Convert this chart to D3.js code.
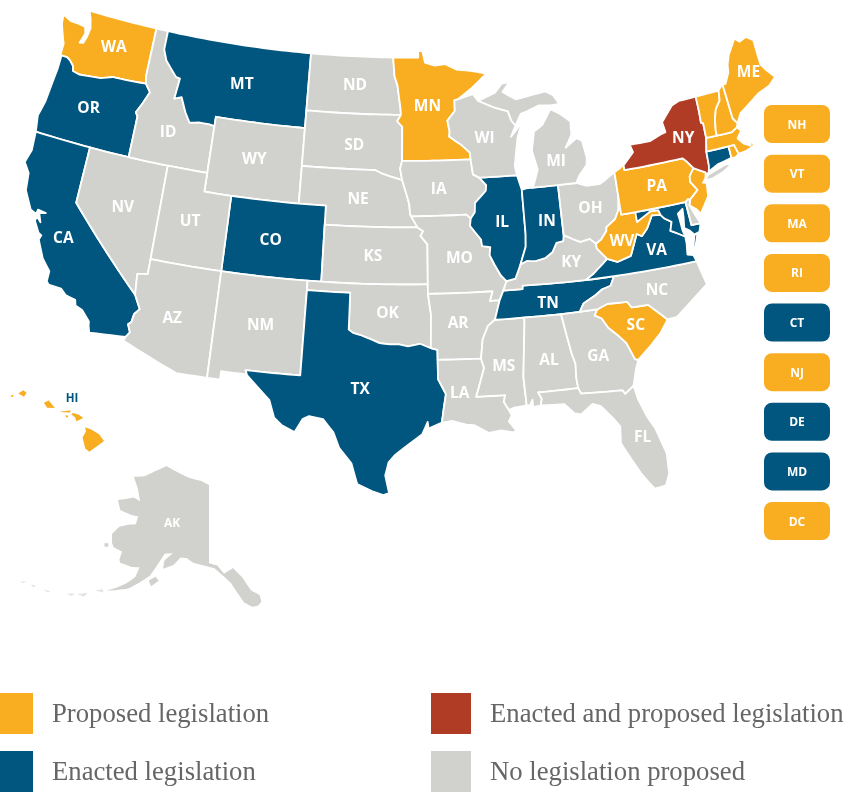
<!DOCTYPE html>
<html>
<head>
<meta charset="utf-8">
<script src="https://cdn.jsdelivr.net/npm/d3@7"></script>
<style>
    html, body { margin: 0; padding: 0; background: #fff; }
    svg { display: block; filter: blur(0.4px); }
    .state { stroke: #fff; stroke-width: 1.8; stroke-linejoin: round; }
    .state-label { font-family: "Open Sans", sans-serif; font-weight: 700; font-size: 15.5px; fill: #fff; text-anchor: middle; dominant-baseline: central; }
    .chip-label { font-family: "Open Sans", sans-serif; font-weight: 700; font-size: 12px; fill: #fff; text-anchor: middle; dominant-baseline: central; }
    .legend-label { font-family: "Liberation Serif", serif; font-size: 26.7px; fill: #666; }
</style>
</head>
<body>
<div id="chart"></div>
<script>
// Status of each state
const proposed = ["WA", "MN", "ME", "NH", "VT", "MA", "RI", "NJ", "PA", "WV", "SC", "HI"];
const enacted = ["OR", "CA", "MT", "CO", "TX", "IL", "IN", "TN", "VA", "CT", "MD"];
const both = ["NY"];

// Buttons for the small states on the right
const chipNames = ["NH", "VT", "MA", "RI", "CT", "NJ", "DE", "MD", "DC"];
const chipStatus = ["proposed", "proposed", "proposed", "proposed", "enacted", "proposed", "enacted", "enacted", "proposed"];

const legendNames = ["Proposed legislation", "Enacted legislation", "Enacted and proposed legislation", "No legislation proposed"];
const legendStatus = ["proposed", "enacted", "both", "none"];

// Borders shared by two states, in lon/lat
const columbia = [[-124.05,46.27],[-123.5,46.27],[-123.2,46.15],[-122.85,45.9],[-122.75,45.65],[-122.2,45.57],[-121.2,45.65],[-120.5,45.7],[-119.6,45.92],[-119,45.93],[-116.92,46]];
const snake = [[-116.92,46],[-116.47,45.6],[-116.85,44.95],[-117.22,44.4],[-117.03,44.2],[-117.03,42]];
const idMt = [[-116.05,49],[-116.05,48],[-115.7,47.45],[-114.7,46.7],[-114.35,46.65],[-114.5,45.55],[-113.95,45.7],[-113.45,44.95],[-113,44.45],[-112.3,44.55],[-111.5,44.55],[-111.05,44.5]];
const coloradoR = [[-114.63,35],[-114.14,34.3],[-114.45,34],[-114.53,33.55],[-114.72,33.4],[-114.5,33],[-114.72,32.72]];
const redRiver = [[-94.48,33.64],[-95.2,33.88],[-96,33.75],[-96.6,33.85],[-97.2,33.85],[-97.9,33.9],[-98.5,34.1],[-99.2,34.3],[-99.7,34.4],[-100,34.56]];
const sabine = [[-94.04,32],[-93.55,31.2],[-93.7,30.5],[-93.85,29.7]];
const neIa = [[-96.44,42.49],[-96.1,41.7],[-95.9,41.2],[-95.85,40.7],[-95.77,40.58]];
const ksMo = [[-95.31,40],[-94.9,39.8],[-95.1,39.55],[-94.61,39.1]];
const ndMn = [[-97.23,49],[-97.1,48],[-96.85,47.5],[-96.6,46.3],[-96.56,45.94]];
const sdMn = [[-96.56,45.94],[-96.85,45.6],[-96.45,45.3],[-96.45,43.5]];
const sdIa = [[-96.45,43.5],[-96.6,43.1],[-96.44,42.49]];
const sdNe = [[-96.44,42.49],[-97.9,42.8],[-98.5,43],[-104.05,43]];
const mnWi = [[-92.01,46.71],[-92.29,46.66],[-92.29,46.1],[-92.9,45.6],[-92.75,45],[-92.8,44.75],[-91.9,44.3],[-91.25,43.85],[-91.22,43.5]];
const iaWi = [[-91.22,43.5],[-91.1,42.7],[-90.64,42.51]];
const iaIl = [[-90.64,42.51],[-90.15,42.1],[-90.2,41.8],[-91.05,41.2],[-91.1,40.7],[-91.42,40.38]];
const moIl = [[-91.42,40.38],[-91.5,40],[-90.75,39.25],[-90.7,38.9],[-90.12,38.83],[-90.2,38.4],[-89.9,37.9],[-89.5,37.3],[-89.13,36.98]];
const lowerMiss = [[-90.1,35],[-90.6,34.7],[-91,34],[-91.17,33]];
const laMs = [[-91.17,33],[-91,32.5],[-91.6,31],[-89.73,31],[-89.85,30.65],[-89.55,30.2]];
const ohioOh = [[-82.6,38.42],[-83,38.72],[-83.7,38.63],[-84.25,38.85],[-84.82,39.1]];
const ohioIn = [[-84.82,39.1],[-84.9,38.78],[-85.4,38.73],[-85.75,38.27],[-86.3,38],[-87,37.9],[-87.6,37.95],[-88.07,37.8]];
const ohioIl = [[-88.07,37.8],[-88.5,37.08],[-89.13,36.98]];
const wabash = [[-87.53,39.35],[-87.6,38.7],[-88.07,37.8]];
const tnKy = [[-89.4,36.5],[-88.07,36.5],[-88.05,36.68],[-83.68,36.6]];
const tnNc = [[-81.68,36.59],[-82,36.12],[-82.6,36],[-83.1,35.75],[-84,35.4],[-84.32,34.99]];
const kyVa = [[-83.68,36.6],[-83.1,36.85],[-81.97,37.54]];
const kyWv = [[-81.97,37.54],[-82.6,38.17],[-82.6,38.42]];
const vaWv = [[-81.97,37.54],[-81.3,37.3],[-80.3,37.5],[-79.65,38.58],[-79.3,38.42],[-78.85,38.76],[-78.35,39.4],[-77.72,39.32]];
const ohWv = [[-82.6,38.42],[-82.2,38.6],[-81.75,39],[-81.7,39.2],[-81,39.55],[-80.66,40],[-80.52,40.64]];
const mdWv = [[-77.72,39.32],[-77.83,39.6],[-78.4,39.62],[-79.48,39.2],[-79.48,39.72]];
const potomac = [[-76.3,37.95],[-77,38.3],[-77.25,38.4],[-77.05,38.85],[-77.5,39.1],[-77.72,39.32]];
const gaSc = [[-83.1,35],[-83.35,34.7],[-82.9,34.48],[-82.55,33.95],[-81.95,33.45],[-81.5,33],[-81.1,32.1],[-80.9,32.03]];
const ncSc = [[-83.1,35],[-82.4,35.2],[-81.05,35.15],[-80.8,34.82],[-79.67,34.8],[-78.55,33.86]];
const alGa = [[-85.6,34.98],[-85.18,32.87],[-85,32.3],[-85.05,31.55],[-85,31]];
const gaFl = [[-85,31],[-84.86,30.7],[-82.2,30.57],[-82.05,30.36],[-81.45,30.72]];
const msAl = [[-88.2,35],[-88.1,34.9],[-88.47,31.9],[-88.4,30.37]];
const alFl = [[-85,31],[-87.6,31],[-87.4,30.65],[-87.5,30.3]];
const paNj = [[-74.7,41.36],[-75.1,41],[-75.15,40.7],[-74.75,40.2],[-75.4,39.8]];
const paNy = [[-75.35,42],[-75.05,41.75],[-74.7,41.36]];
const vtNh = [[-71.5,45.01],[-71.6,44.5],[-72.05,44.1],[-72.3,43.6],[-72.45,43],[-72.46,42.73]];
const nyVt = [[-73.34,45.01],[-73.35,44.2],[-73.4,43.6],[-73.25,43.55],[-73.28,42.75]];

const rev = a => a.slice().reverse();

// State outlines for the lower 48
const lower48 = {
    WA: [[[-117.03,49],[-122.76,49],[-122.5,48.6],[-122.3,48.1],[-122.4,47.6],[-122.55,47.25],[-122.85,47.2],[-122.6,47.75],[-122.75,48.1],[-123.2,48.15],[-124,48.17],[-124.72,48.38],[-124.65,47.9],[-124.3,47.3],[-124.05,46.9],...columbia,[-117.04,46.42]]],
    OR: [[...columbia, ...snake.slice(1),[-124.2,42],[-124.4,42.85],[-124.15,43.7],[-124.05,44.7],[-123.95,45.5],[-123.95,46.2]]],
    CA: [[[-124.2,42],[-120,42],[-120,39],...coloradoR,[-117.12,32.53],[-117.25,32.85],[-117.3,33.1],[-117.9,33.6],[-118.4,33.75],[-118.5,34.03],[-119.2,34.15],[-119.6,34.42],[-120.47,34.45],[-120.65,34.6],[-120.65,35.15],[-121.3,35.7],[-121.9,36.6],[-121.8,36.85],[-122.05,36.95],[-122.5,37.5],[-122.45,37.75],[-122.1,37.5],[-122.35,37.95],[-121.9,38.05],[-122.5,38.1],[-122.55,37.85],[-123,38],[-123.7,38.9],[-123.85,39.8],[-124.35,40.3],[-124.1,41]]],
    NV: [[[-120,42],[-114.04,42],[-114.04,36.2],[-114.75,36.1],[-114.63,35],[-120,39]]],
    ID: [[[-117.03,49],...idMt,[-111.05,42],...rev(snake),[-117.04,46.42]]],
    MT: [[[-116.05,49],[-104.05,49],[-104.05,45],[-111.05,45],...rev(idMt)]],
    WY: [[[-111.05,45],[-104.05,45],[-104.05,41],[-111.05,41]]],
    ND: [[[-104.05,49],...ndMn,[-104.05,45.94]]],
    SD: [[[-104.05,45.94],...sdMn,...sdIa.slice(1),...sdNe.slice(1)]],
    NE: [[...rev(sdNe),...neIa.slice(1),[-95.31,40],[-102.05,40],[-102.05,41],[-104.05,41]]],
    CO: [[[-109.05,41],[-102.05,41],[-102.05,37],[-109.05,37]]],
    UT: [[[-114.04,42],[-111.05,42],[-111.05,41],[-109.05,41],[-109.05,37],[-114.04,37]]],
    AZ: [[[-114.04,37],[-109.05,37],[-109.05,31.33],[-111.07,31.33],[-114.81,32.5],...rev(coloradoR),[-114.75,36.1],[-114.04,36.2]]],
    NM: [[[-109.05,37],[-103,37],[-103.04,32],[-106.62,32],[-106.53,31.78],[-108.2,31.78],[-108.2,31.33],[-109.05,31.33]]],
    KS: [[[-102.05,40],...ksMo,[-94.62,37],[-102.04,37]]],
    OK: [[[-103,37],[-94.62,37],[-94.62,36.5],[-94.43,35.4],...redRiver,[-100,36.5],[-103,36.5]]],
    TX: [[[-106.62,32],[-103.04,32],[-103,36.5],[-100,36.5],...rev(redRiver),[-94.04,33.55],[-94.04,33.02],...sabine,[-94.7,29.4],[-94.75,29.75],[-95.1,29.1],[-95.9,28.6],[-96.8,28],[-97.2,27.6],[-97.4,26.9],[-97.15,25.96],[-97.5,25.85],[-98.2,26.05],[-99.1,26.4],[-99.5,27.5],[-100.3,28.3],[-100.7,29.1],[-101.4,29.77],[-102.3,29.88],[-102.7,29.7],[-103.15,28.98],[-104,29.3],[-104.5,29.65],[-104.9,30.55],[-106.5,31.75]]],
    MN: [[[-97.23,49],[-95.15,49],[-95.15,49.38],[-94.8,49.33],[-94.6,48.72],[-93.8,48.55],[-92.95,48.62],[-92,48.3],[-90.9,48.2],[-89.6,48],[-90.8,47.3],...mnWi,...rev(sdMn),...rev(ndMn).slice(1)]],
    IA: [[[-96.45,43.5],[-91.22,43.5],...iaWi.slice(1),...iaIl.slice(1),[-91.73,40.6],[-95.77,40.58],...rev(neIa).slice(1),...rev(sdIa).slice(1)]],
    MO: [[[-95.77,40.58],[-91.73,40.6],...moIl,[-89.4,36.5],[-89.7,36],[-90.37,36],[-90.15,36.5],[-94.62,36.5],[-94.62,37],...rev(ksMo)]],
    AR: [[[-94.62,36.5],[-90.15,36.5],[-90.37,36],[-89.7,36],...lowerMiss,[-94.04,33.02],[-94.04,33.55],[-94.48,33.64],[-94.43,35.4]]],
    LA: [[[-94.04,33.02],...laMs,[-89.4,29.9],[-89.6,29.6],[-89.15,29.05],[-89.4,29],[-90.1,29.15],[-90.9,29.05],[-91.8,29.5],[-92.3,29.55],[-93.2,29.77],...rev(sabine)]],
    MS: [[[-90.1,35],[-88.2,35],...msAl.slice(1),[-89.2,30.3],...rev(laMs),...rev(lowerMiss).slice(1)]],
    TN: [[[-90.1,35],[-89.7,36],...tnKy,[-81.68,36.59],...tnNc,[-85.6,34.98],[-88.2,35]]],
    KY: [[...tnKy,...kyVa.slice(1),...kyWv.slice(1),...ohioOh.slice(1),...ohioIn.slice(1),...ohioIl.slice(1)]],
    IL: [[[-90.64,42.51],[-87.8,42.49],[-87.53,41.7],...wabash,...ohioIl.slice(1),...rev(moIl).slice(1),...rev(iaIl).slice(1)]],
    IN: [[[-87.53,41.7],[-87.2,41.76],[-84.82,41.76],...ohioIn,...rev(wabash).slice(1)]],
    OH: [[[-84.82,41.76],[-83.45,41.73],[-82.7,41.5],[-81.7,41.5],[-80.52,41.98],...rev(ohWv),...ohioOh.slice(1)]],
    MI: [
        [[-86.8,41.76],[-83.45,41.73],[-83.15,42.1],[-82.5,42.6],[-82.42,43],[-82.6,43.9],[-83,44.07],[-83.9,43.65],[-83.35,44.3],[-83.3,45],[-84.1,45.5],[-84.75,45.78],[-85.5,45],[-86.2,44.7],[-86.5,43.7],[-86.2,42.7],[-86.6,41.9]],
        [[-90.4,46.57],[-89,46.95],[-88.4,47.4],[-87.8,47.45],[-88.4,46.95],[-87.4,46.5],[-86,46.65],[-85,46.75],[-84.4,46.5],[-84,46],[-84.7,45.98],[-85.6,46.05],[-86.6,45.8],[-87.1,45.7],[-87.6,45.1],[-87.9,45.4],[-88.1,45.9],[-89.1,46.14]]
    ],
    WI: [[...mnWi,...iaWi.slice(1),[-87.8,42.49],[-87.9,43],[-87.75,43.6],[-87.5,44.5],[-87.05,45.25],[-88,44.55],[-87.6,45.1],[-87.9,45.4],[-88.1,45.9],[-89.1,46.14],[-90.4,46.57],[-90.8,46.95]]],
    AL: [[[-88.2,35],[-85.6,34.98],...alGa.slice(1),...alFl.slice(1),[-88,30.25],[-88,30.65],[-88.2,30.35],...rev(msAl)]],
    GA: [[[-85.6,34.98],[-83.1,35],...gaSc.slice(1),[-81.15,31.55],...rev(gaFl),...rev(alGa).slice(1)]],
    FL: [[...rev(alFl),...gaFl.slice(1),[-81.3,30],[-80.9,29],[-80.5,28.3],[-80.05,26.9],[-80.1,25.8],[-80.4,25.2],[-81.1,25.12],[-81.75,26],[-82.2,26.8],[-82.75,27.8],[-82.65,28.7],[-83,29.15],[-83.7,29.9],[-84.2,30.08],[-85,29.6],[-85.4,29.7],[-86,30.25]]],
    SC: [[...ncSc,[-79.2,33.2],[-79.9,32.7],...rev(gaSc).slice(0,-1)]],
    NC: [[[-84.32,34.99],...rev(tnNc).slice(1),[-75.87,36.55],[-75.5,35.25],[-76.5,34.7],[-77.9,33.9],...rev(ncSc).slice(0,-1),[-83.1,35]]],
    VA: [
        [[-83.68,36.6],[-81.68,36.59],[-75.87,36.55],[-76,36.9],[-76.4,37],[-76.3,37.6],...potomac,...rev(vaWv).slice(1),...rev(kyVa).slice(1)],
        [[-75.95,37.15],[-75.65,37.9],[-75.4,38],[-75.75,37.3]]
    ],
    WV: [[...kyWv,...ohWv.slice(1),[-80.52,39.72],...rev(mdWv),...rev(vaWv).slice(1)]],
    MD: [[[-79.48,39.72],[-75.79,39.72],[-75.7,38.46],[-75.05,38.45],[-75.25,38.03],[-75.65,37.95],[-75.9,38.2],[-76.25,38.4],[-76.15,38.9],[-76.1,39.4],[-76.5,39.2],[-76.45,38.9],[-76.4,38.3],...potomac,...mdWv.slice(1)]],
    DE: [[[-75.79,39.72],[-75.6,39.84],[-75.4,39.8],[-75.55,39.5],[-75.3,38.95],[-75.05,38.45],[-75.7,38.46]]],
    PA: [[[-80.52,41.98],[-79.76,42.27],[-79.76,42],...paNy,...paNj.slice(1),[-75.6,39.84],[-75.79,39.72],[-80.52,39.72],[-80.52,40.64]]],
    NJ: [[...paNj,[-75.55,39.5],[-75.1,39.2],[-74.9,38.93],[-74.1,39.75],[-74,40.45],[-74.25,40.5],[-74,40.7],[-73.9,41]]],
    NY: [
        [[-79.76,42],[-79.76,42.27],[-78.9,42.85],[-79.05,43.27],[-77.5,43.25],[-76.5,43.5],[-76.2,43.55],[-76.3,44.1],[-75.3,44.85],[-74.7,45],...nyVt,[-73.5,42.05],[-73.55,41.3],[-73.65,41],[-73.9,40.8],[-73.9,41],...rev(paNy)]
    ],
    LI: [[[-74.03,40.6],[-73.75,40.85],[-72.3,41.15],[-71.9,41.07],[-72.6,40.8],[-73.5,40.6]]],
    CT: [[[-73.5,42.05],[-71.8,42.02],[-71.8,41.4],[-72.9,41.25],[-73.65,41],[-73.55,41.3]]],
    RI: [[[-71.8,42.02],[-71.38,42.02],[-71.2,41.5],[-71.5,41.37],[-71.8,41.4]]],
    MA: [[[-73.5,42.05],[-73.28,42.75],[-72.46,42.73],[-71.3,42.7],[-70.85,42.88],[-70.6,42.65],[-71,42.3],[-70.65,41.95],[-70.2,41.75],[-70.05,42.05],[-69.95,41.7],[-70.6,41.55],[-71.2,41.5],[-71.38,42.02]]],
    VT: [[[-73.34,45.01],...vtNh,...rev(nyVt)]],
    NH: [[...vtNh,[-71.3,42.7],[-70.85,42.88],[-70.7,43.07],[-70.98,43.4],[-71.08,45.3]]],
    ME: [[[-71.08,45.3],[-70.85,45.25],[-70.4,45.8],[-70.3,46.2],[-70,46.7],[-69.23,47.45],[-68.9,47.2],[-68.3,47.35],[-67.8,47.07],[-67.8,45.7],[-67.45,45.3],[-66.98,44.85],[-67.6,44.5],[-68.5,44.3],[-69,44.1],[-69.8,43.75],[-70.3,43.55],[-70.7,43.07],[-70.98,43.4]]]
};

const hawaii = [
    [[-155.9,20.25],[-155.55,20.13],[-155.1,19.87],[-154.82,19.5],[-155.67,18.92],[-155.9,19.1],[-156.05,19.7],[-155.85,20.02]],
    [[-156.7,20.95],[-156.6,21.03],[-156.25,20.93],[-156,20.75],[-156.4,20.58],[-156.48,20.8]],
    [[-157.3,21.1],[-156.75,21.17],[-156.75,21.05],[-157.3,21.08]],
    [[-157.05,20.9],[-156.85,20.88],[-156.95,20.75]],
    [[-158.28,21.57],[-158,21.7],[-157.65,21.3],[-158.1,21.3]],
    [[-159.78,22.05],[-159.5,22.23],[-159.3,22.1],[-159.45,21.88]],
    [[-160.25,21.9],[-160.05,22],[-160.1,21.85]]
];

const alaska = [
    [[-141,69.65],[-143.5,70.1],[-148,70.4],[-152,70.85],[-156.6,71.35],[-160,70.4],[-163,69.4],[-166.2,68.9],[-163.8,67.8],[-162.5,66.9],[-161.8,66.4],[-164,66.55],[-168,65.6],[-166.3,64.6],[-163,64.5],[-161,64.6],[-161,63.6],[-162.8,63.3],[-164.9,62.7],[-166,61.6],[-165.2,60.6],[-164.5,60.2],[-162.2,60],[-162.2,59],[-161.8,58.7],[-159,58.6],[-157.2,58.8],[-157.6,57.6],[-158.7,56.8],[-160.5,55.9],[-162.8,55],[-161,55.4],[-158.5,56],[-156.5,57],[-154.5,58.1],[-153.2,59.6],[-152,61],[-150,61.2],[-151.8,60.2],[-151.8,59.2],[-149.5,59.8],[-148,60.8],[-146.5,60.8],[-144.8,60.3],[-142,60],[-139.7,59.7],[-137.6,58.7],[-136,57.8],[-135,56.8],[-133.6,55.4],[-132,54.75],[-130.8,54.8],[-130,55.2],[-130.1,56],[-131.8,56.7],[-133.4,58.4],[-135.3,59.6],[-137.5,59],[-139,60],[-141,60.3]],
    [[-166.9,60.2],[-166,60.4],[-165.7,60],[-166.5,59.85]],
    [[-154.5,57.5],[-153.2,58.1],[-152.3,57.7],[-153.8,56.9]]
];
const aleutians = [
    [[-164.9,54.6],[-163.6,55.05],[-163.2,54.7]],[[-168,53.4],[-166.2,54],[-166.6,53.4]],[[-170,52.9],[-168.6,53.3],[-168.9,52.9]],
    [[-174.4,52.1],[-173,52.3],[-173.4,52]],[[-177,51.9],[-176,52],[-176.3,51.7]],[[-179,51.5],[-178,51.9],[-178.4,51.5]],[[-187.2,52.9],[-186,53],[-186.2,52.75]]
];

// Label anchors, lon/lat
const labelNames = ["WA","OR","CA","NV","ID","MT","WY","UT","AZ","CO","NM","ND","SD","NE","KS","OK","TX","MN","IA","MO","AR","LA","WI","IL","IN","MI","OH","KY","TN","MS","AL","GA","FL","SC","NC","VA","WV","PA","NY","ME"];
const labelLon = [-120.1,-120.85,-120.3,-116.7,-114.5,-109.4,-107.7,-111.75,-111.9,-105.85,-105.95,-100.3,-100.15,-99.7,-98.5,-97.4,-99.1,-94.45,-93.7,-92.35,-92.6,-92.65,-90.05,-89.15,-85.9,-84.75,-82.65,-84.5,-86.4,-89.7,-86.7,-83.45,-81.35,-80.7,-78.9,-78.45,-80.75,-77.6,-74.95,-68.85];
const labelLat = [47.55,44.05,37.1,39.45,43.8,47,43.15,39.4,34.2,39,34.5,47.5,44.35,41.5,38.55,35.55,31.5,46.45,42.05,38.4,35,31.3,44.65,40.15,40,43.05,40.35,37.7,35.7,32.6,32.7,32.6,28,33.9,35.55,37.6,38.4,40.9,43.1,45.55];

const colors = {
    proposed: "#f9ae22",
    enacted: "#00567f",
    both: "#b13c25",
    none: "#d1d2ce"
};

const width = 848;
const height = 792;

const statusOf = id => proposed.includes(id) ? "proposed" : enacted.includes(id) ? "enacted" : both.includes(id) ? "both" : "none";

const svg = d3.select("#chart").append("svg")
    .attr("width", width)
    .attr("height", height);

// Lower 48: Albers on the unit sphere, then slightly taller than wide
const albers = d3.geoConicEqualArea()
    .parallels([29.5, 45.5])
    .rotate([96, 0])
    .center([0, 37.5])
    .scale(1)
    .translate([0, 0]);
const xMap = d3.scaleLinear().domain([0, 1]).range([408, 408 + 1040]);
const yMap = d3.scaleLinear().domain([0, 1]).range([275, 275 + 1080]);
const projectMain = p => {
    const q = albers(p);
    return [xMap(q[0]), yMap(q[1])];
};

const hawaiiProj = d3.geoEquirectangular().rotate([157, -20.7]).scale(1060).translate([66, 419]);
const alaskaProj = d3.geoConicEqualArea().parallels([55, 65]).rotate([141, 0]).center([0, 69.65]).scale(480).translate([209, 485]);

// Add points along long edges so the parallels curve
function densify(ring) {
    const out = [];
    ring.forEach((p, i) => {
        const q = ring[(i + 1) % ring.length];
        const n = Math.ceil(Math.max(Math.abs(q[0] - p[0]), Math.abs(q[1] - p[1])) / 0.5);
        for (let k = 0; k < n; k++) {
            out.push([p[0] + (q[0] - p[0]) * k / n, p[1] + (q[1] - p[1]) * k / n]);
        }
    });
    return out;
}

const ringPath = project => {
    const line = d3.line().x(d => d[0]).y(d => d[1]);
    return rings => rings.map(r => line(densify(r).map(project)) + "Z").join("");
};

const mainPath = ringPath(projectMain);
const hawaiiPath = ringPath(p => hawaiiProj(p));
const alaskaPath = ringPath(p => alaskaProj(p));

svg.append("g").selectAll("path")
    .data(Object.keys(lower48))
    .join("path")
    .attr("class", "state")
    .attr("fill", d => colors[statusOf(d)])
    .attr("d", d => mainPath(lower48[d]));

svg.append("path")
    .attr("fill", colors[statusOf("HI")])
    .attr("d", hawaiiPath(hawaii));

svg.append("path")
    .attr("fill", colors[statusOf("AK")])
    .attr("d", alaskaPath(alaska));

svg.append("path")
    .attr("fill", colors[statusOf("AK")])
    .attr("fill-opacity", 0.6)
    .attr("d", alaskaPath(aleutians));

// State labels
svg.append("g").selectAll("text")
    .data(labelNames)
    .join("text")
    .attr("class", "state-label")
    .attr("x", (d, i) => projectMain([labelLon[i], labelLat[i]])[0])
    .attr("y", (d, i) => projectMain([labelLon[i], labelLat[i]])[1])
    .text(d => d);

svg.append("text")
    .attr("class", "state-label")
    .attr("x", 72)
    .attr("y", 397)
    .style("font-size", "11.5px")
    .style("fill", colors.enacted)
    .text("HI");

svg.append("text")
    .attr("class", "state-label")
    .attr("x", 172)
    .attr("y", 522)
    .style("font-size", "12px")
    .text("AK");

// Buttons for the small states
const chipY = d3.scalePoint().domain(chipNames).range([105, 502]);

const chips = svg.append("g").selectAll("g")
    .data(chipNames)
    .join("g")
    .attr("transform", d => `translate(764,${chipY(d)})`);

chips.append("rect")
    .attr("width", 66)
    .attr("height", 38)
    .attr("rx", 8)
    .attr("fill", (d, i) => colors[chipStatus[i]]);

chips.append("text")
    .attr("class", "chip-label")
    .attr("x", 33)
    .attr("y", 19)
    .text(d => d);

// Legend, two columns of two
const legendX = d3.scaleOrdinal().domain([0, 1]).range([0, 431]);
const legendY = d3.scaleOrdinal().domain([0, 1]).range([693, 751]);

const legend = svg.append("g").selectAll("g")
    .data(legendNames)
    .join("g")
    .attr("transform", (d, i) => `translate(${legendX(Math.floor(i / 2))},${legendY(i % 2)})`);

legend.append("rect")
    .attr("width", (d, i) => i < 2 ? 33 : 40)
    .attr("height", 41)
    .attr("fill", (d, i) => colors[legendStatus[i]]);

legend.append("text")
    .attr("class", "legend-label")
    .attr("x", (d, i) => i < 2 ? 52 : 59)
    .attr("y", 29)
    .text(d => d);
</script>
</body>
</html>
